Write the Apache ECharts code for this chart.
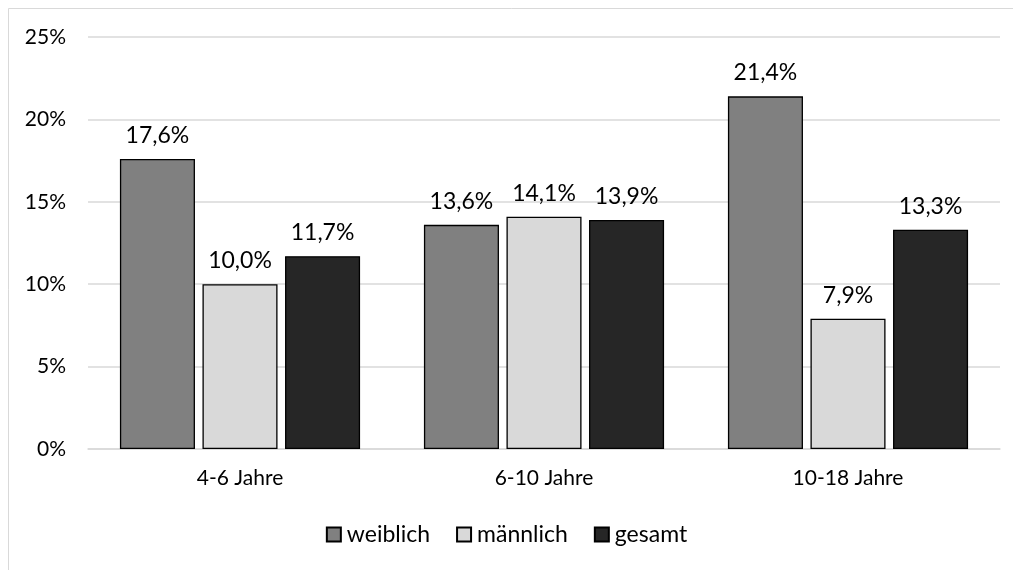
<!DOCTYPE html>
<html>
<head>
<meta charset="utf-8">
<script src="https://cdn.jsdelivr.net/npm/echarts@6/dist/echarts.min.js"></script>
<style>
  html, body { margin: 0; padding: 0; background: #fff; }
  #main { width: 1013px; height: 570px; }
</style>
</head>
<body>
<div id="main"></div>
<script>
// Kategorien und Werte (in Prozent)
var categories = ['4-6 Jahre', '6-10 Jahre', '10-18 Jahre'];
var weiblich = [17.6, 13.6, 21.4];
var maennlich = [10.0, 14.1, 7.9];
var gesamt = [11.7, 13.9, 13.3];
var yTicks = [0, 5, 10, 15, 20, 25];

var myChart = echarts.init(document.getElementById('main'));

function fmt(v) {
  return v.toFixed(1).replace('.', ',') + '%';
}

function makeSeries(name, data, color) {
  return {
    name: name,
    type: 'bar',
    data: data,
    barGap: '10%',
    barCategoryGap: '21%',
    itemStyle: { color: color, borderColor: '#000', borderWidth: 1.3 },
    label: {
      show: true,
      position: 'top',
      distance: 12,
      color: '#000',
      fontSize: 23,
      fontFamily: 'Lato',
      formatter: function (p) { return fmt(p.value); }
    }
  };
}

var option = {
  backgroundColor: '#fff',
  animation: false,
  graphic: [{
    type: 'rect',
    shape: { x: 8.5, y: 8.5, width: 1010, height: 570 },
    style: { fill: 'none', stroke: '#d9d9d9', lineWidth: 1 }
  }],
  grid: { left: 88, right: 13, top: 37, bottom: 121 },
  legend: {
    bottom: 19,
    left: 'center',
    itemWidth: 14,
    itemHeight: 14,
    itemGap: 26,
    icon: 'rect',
    textStyle: { fontSize: 23, fontFamily: 'Lato', color: '#000', padding: [0, 0, 0, 1] },
    data: ['weiblich', 'männlich', 'gesamt']
  },
  xAxis: {
    type: 'category',
    data: categories,
    axisLine: { lineStyle: { color: '#d9d9d9', width: 1.5 } },
    axisTick: { show: false },
    axisLabel: { color: '#000', fontSize: 21, fontFamily: 'Lato', margin: 19 }
  },
  yAxis: {
    type: 'value',
    min: yTicks[0],
    max: yTicks[yTicks.length - 1],
    interval: 5,
    axisLine: { show: false },
    axisTick: { show: false },
    splitLine: { lineStyle: { color: '#d9d9d9', width: 1.5 } },
    axisLabel: {
      color: '#000', fontSize: 21, fontFamily: 'Lato', margin: 22,
      formatter: function (v) { return v + '%'; }
    }
  },
  series: [
    makeSeries('weiblich', weiblich, '#808080'),
    makeSeries('männlich', maennlich, '#d9d9d9'),
    makeSeries('gesamt', gesamt, '#262626')
  ]
};

myChart.setOption(option);
</script>
</body>
</html>
